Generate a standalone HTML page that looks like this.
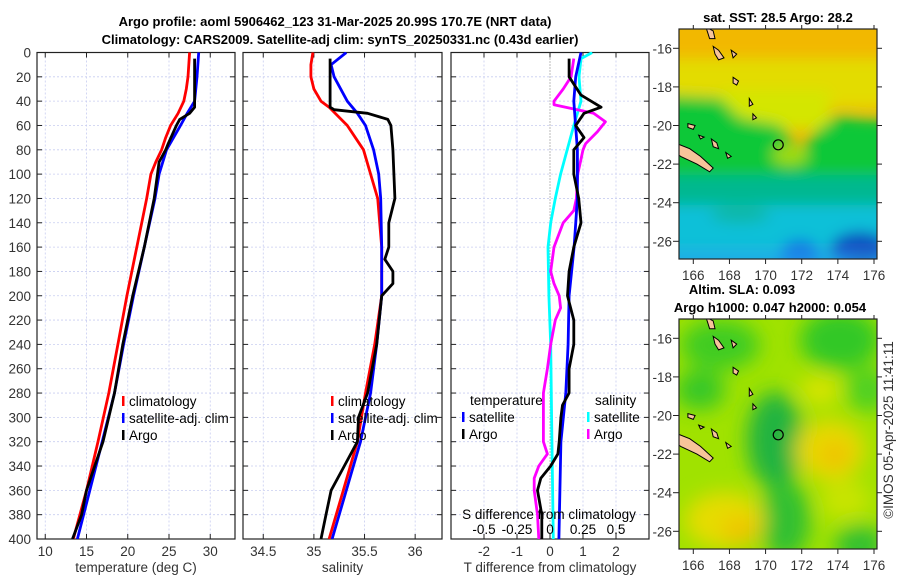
<!DOCTYPE html>
<html><head><meta charset="utf-8"><style>
body{margin:0;background:#fff}
svg{display:block;font-family:"Liberation Sans","DejaVu Sans",sans-serif}
.tk{font-size:13.5px;fill:#333}
.tt{font-size:13px;font-weight:bold;fill:#000}
.lg{font-size:13.5px;fill:#000}
</style></head><body>
<svg id="chart" width="900" height="580" viewBox="0 0 900 580">
<defs>
<filter id="blur" x="-20%" y="-20%" width="140%" height="140%"><feGaussianBlur stdDeviation="7"/></filter>
<filter id="blur2" x="-30%" y="-30%" width="160%" height="160%"><feGaussianBlur stdDeviation="10"/></filter>
<clipPath id="m1c"><rect x="679" y="29" width="198" height="230"/></clipPath>
<clipPath id="m2c"><rect x="679" y="319" width="198" height="230"/></clipPath>
<clipPath id="p1c"><rect x="37" y="52" width="198" height="487"/></clipPath>
<clipPath id="p2c"><rect x="243" y="52" width="199" height="487"/></clipPath>
<clipPath id="p3c"><rect x="451" y="52" width="198" height="487"/></clipPath>
</defs>
<text class="tt" x="335" y="26" text-anchor="middle">Argo profile: aoml 5906462_123 31-Mar-2025 20.99S 170.7E (NRT data)</text>
<text class="tt" x="340" y="44" text-anchor="middle">Climatology: CARS2009. Satellite-adj clim: synTS_20250331.nc (0.43d earlier)</text>
<g id="panels"></g>
<g id="maps"></g>
<text class="tk" x="0" y="0" transform="translate(893,430) rotate(-90)" text-anchor="middle">©IMOS 05-Apr-2025 11:41:11</text>
</svg>
<script>
// ---- data ----
const depthTicks=[0,20,40,60,80,100,120,140,160,180,200,220,240,260,280,300,320,340,360,380,400];
const tTicks=[10,15,20,25,30];
const sTicks=[34.5,35,35.5,36];
const dTicks=[-2,-1,0,1,2];
const sdTicks=[-0.5,-0.25,0,0.25,0.5];
const tClimDepth=[0,10,20,30,40,50,60,70,80,90,100,120,160,200,240,280,320,360,400];
const tClim=[27.5,27.4,27.3,27.1,26.8,26.1,25.2,24.6,24.1,23.4,22.8,22.3,21.1,19.9,18.8,17.7,16.4,15.0,13.4];
const tSatDepth=[0,20,40,50,60,80,100,120,160,200,240,280,320,360,400];
const tSat=[28.6,28.4,28.1,27.2,26.4,24.7,23.8,23.3,22.0,20.7,19.5,18.4,16.9,15.4,13.9];
const tArgoDepth=[5,20,45,50,55,60,75,80,90,100,120,160,200,240,280,320,350,360,380,400];
const tArgo=[28.1,28.1,28.1,27.5,26.3,25.9,24.9,24.6,23.8,23.6,23.2,22.0,20.6,19.4,18.4,17.0,15.5,15.0,14.4,13.3];
const sClimDepth=[0,10,20,30,40,45,60,80,100,120,140,160,200,240,280,320,360,400];
const sClim=[34.99,34.97,34.97,35.0,35.07,35.15,35.33,35.49,35.56,35.63,35.65,35.67,35.67,35.6,35.51,35.43,35.29,35.15];
const sSatDepth=[0,10,20,40,50,60,80,100,120,160,200,240,280,320,360,400];
const sSat=[35.32,35.17,35.2,35.33,35.43,35.51,35.59,35.64,35.66,35.67,35.67,35.62,35.56,35.46,35.32,35.18];
const sArgoDepth=[5,45,47,50,55,60,80,100,120,140,160,170,180,190,200,240,280,300,320,340,360,380,400];
const sArgo=[35.16,35.16,35.2,35.53,35.73,35.76,35.78,35.79,35.8,35.74,35.74,35.7,35.78,35.78,35.67,35.62,35.53,35.44,35.43,35.3,35.17,35.12,35.07];
const dDepth=[0,20,40,80,120,160,200,240,280,320,360,400];
const dTSat=[0.94,0.78,0.72,0.83,0.83,0.73,0.58,0.55,0.48,0.33,0.3,0.27];
const dTArgoDepth=[5,20,35,45,50,60,70,80,100,120,140,160,180,200,220,240,260,280,290,300,320,330,340,350,360,380,400];
const dTArgo=[0.58,0.58,0.94,1.55,1.03,0.78,1.03,0.72,0.72,0.87,0.94,0.72,0.58,0.53,0.72,0.72,0.58,0.58,0.38,0.33,0.28,0.24,0.02,-0.28,-0.38,-0.25,-0.25];
const dSSatDepth=[0,5,20,40,60,80,100,120,140,160,200,240,300,400];
const dSSat=[0.32,0.235,0.22,0.235,0.18,0.13,0.08,0.04,0.005,-0.015,-0.008,0.005,0.012,0.025];
const dSArgoDepth=[5,20,30,40,43,50,57,65,75,80,90,100,120,130,140,160,180,190,200,210,220,240,260,280,300,320,330,340,350,360,380,400];
const dSArgo=[0.18,0.16,0.1,0.03,0.03,0.33,0.42,0.36,0.27,0.25,0.23,0.21,0.2,0.18,0.1,0.03,0.005,0.03,0.07,0.08,0.04,0.005,-0.02,-0.05,-0.05,-0.05,-0.02,-0.085,-0.12,-0.12,-0.095,-0.085];
// ---- helpers ----
const NS='http://www.w3.org/2000/svg';
function mk(tag,attrs,parent,txt){const e=document.createElementNS(NS,tag);for(const k in attrs)e.setAttribute(k,attrs[k]);if(txt!==undefined)e.textContent=txt;parent.appendChild(e);return e;}
const Y0=52.5,Y1=539;
const yD=d=>Y0+(d/400)*(Y1-Y0);
function lin(d0,d1,r0,r1){return v=>r0+(v-d0)/(d1-d0)*(r1-r0);}
const panelsG=document.getElementById('panels');
const panels=[
 {x0:37,x1:235,sc:lin(9,33,37,235),ticks:tTicks,name:'temperature-panel',label:'temperature (deg C)',clip:'p1c'},
 {x0:243,x1:442,sc:lin(34.3,36.265,243,442),ticks:sTicks,name:'salinity-panel',label:'salinity',clip:'p2c'},
 {x0:451,x1:649,sc:lin(-3,3,451,649),ticks:dTicks,name:'difference-panel',label:'T difference from climatology',clip:'p3c'}
];
panels.forEach((p,pi)=>{
 const g=mk('g',{},panelsG);
 
 
 depthTicks.forEach(d=>{const l=mk('line',{x1:p.x0,x2:p.x1,y1:yD(d),y2:yD(d),stroke:'#c8cdf0','stroke-width':0.8,'stroke-dasharray':'2,2'},g);
  
  mk('line',{x1:p.x0,x2:p.x0+5,y1:yD(d),y2:yD(d),stroke:'#222'},g);
  mk('line',{x1:p.x1-5,x2:p.x1,y1:yD(d),y2:yD(d),stroke:'#222'},g);
  if(pi===0){const tx=mk('text',{class:'tk',x:31,y:yD(d)+5,'text-anchor':'end'},g,d);}
 });
 p.ticks.forEach(v=>{const x=p.sc(v);
  const l=mk('line',{x1:x,x2:x,y1:Y0,y2:Y1,stroke:(pi===2&&v===0)?'#555':'#c8cdf0','stroke-width':0.8,'stroke-dasharray':(pi===2&&v===0)?'1,2':'2,2'},g);
  
  mk('line',{x1:x,x2:x,y1:Y1,y2:Y1-5,stroke:'#222'},g);
  mk('line',{x1:x,x2:x,y1:Y0,y2:Y0+5,stroke:'#222'},g);
  const tx=mk('text',{class:'tk',x:x,y:556,'text-anchor':'middle'},g,v);
  
 });
 const ax=mk('text',{class:'tk',x:(p.x0+p.x1)/2,y:572,'text-anchor':'middle'},g,p.label);
 
 const fr=mk('rect',{x:p.x0,y:Y0,width:p.x1-p.x0,height:Y1-Y0,fill:'none',stroke:'#222','stroke-width':1.2},g);
 
});
function line(g,depths,vals,sc,color,name,clip){
 const pts=depths.map((d,i)=>sc(vals[i]).toFixed(1)+','+yD(d).toFixed(1)).join(' ');
 const pl=mk('polyline',{points:pts,fill:'none',stroke:color,'stroke-width':2.8,'stroke-linejoin':'round','clip-path':'url(#'+clip+')'},g);
 
 
}
const lg=mk('g',{},panelsG);
const P=panels;
line(lg,tClimDepth,tClim,P[0].sc,'#f00','temp-climatology-line','p1c');
line(lg,tSatDepth,tSat,P[0].sc,'#00f','temp-satellite-line','p1c');
line(lg,tArgoDepth,tArgo,P[0].sc,'#000','temp-argo-line','p1c');
line(lg,sClimDepth,sClim,P[1].sc,'#f00','sal-climatology-line','p2c');
line(lg,sSatDepth,sSat,P[1].sc,'#00f','sal-satellite-line','p2c');
line(lg,sArgoDepth,sArgo,P[1].sc,'#000','sal-argo-line','p2c');
const s4=v=>P[2].sc(v*4);
line(lg,dSSatDepth,dSSat,s4,'#0ff','sdiff-satellite-line','p3c');
line(lg,dSArgoDepth,dSArgo,s4,'#f0f','sdiff-argo-line','p3c');
line(lg,dDepth,dTSat,P[2].sc,'#00f','tdiff-satellite-line','p3c');
line(lg,dTArgoDepth,dTArgo,P[2].sc,'#000','tdiff-argo-line','p3c');
// legends
function legend(x,y,items,name){
 const g=mk('g',{},panelsG);
 
 items.forEach((it,i)=>{const yy=y+i*17;
  mk('rect',{x:x,y:yy-10,width:2.5,height:10,fill:it[1]},g);
  const t=mk('text',{class:'lg',x:x+7,y:yy},g,it[0]);
  
 });
}
legend(122,406,[['climatology','#f00'],['satellite-adj. clim','#00f'],['Argo','#000']],'temp-legend');
legend(331,406,[['climatology','#f00'],['satellite-adj. clim','#00f'],['Argo','#000']],'sal-legend');
mk('text',{class:'lg',x:470,y:405},panelsG,'temperature');
mk('text',{class:'lg',x:595,y:405},panelsG,'salinity');
legend(462,422,[['satellite','#00f'],['Argo','#000']],'tdiff-legend');
legend(587,422,[['satellite','#0ff'],['Argo','#f0f']],'sdiff-legend');
const sl=mk('text',{class:'lg',x:549,y:519,'text-anchor':'middle'},panelsG,'S difference from climatology');

sdTicks.forEach(v=>{const t=mk('text',{class:'lg',x:s4(v),y:534,'text-anchor':'middle'},panelsG,v);
 });

// ---- maps ----
const mapsG=document.getElementById('maps');
const lonX=lin(166,176,693.3,874);
function map(top,clip,name,title,draw){
 const g=mk('g',{},mapsG);
 
 const latY=lin(-16,-26,top+19.3,top+212.3);
 const inner=mk('g',{'clip-path':'url(#'+clip+')'},g);
 draw(inner,latY);
 const isl=mk('g',{fill:'#f7c49a',stroke:'#000','stroke-width':1},inner);
 
 const P2=(pts)=>pts.map(p=>lonX(p[0]).toFixed(1)+','+latY(p[1]).toFixed(1)).join(' ');
 mk('polygon',{points:P2([[165,-20.9],[165.8,-21.2],[166.4,-21.6],[167.1,-22.2],[166.9,-22.4],[166.2,-22.0],[165.3,-21.6],[165,-21.4]])},isl);
 mk('polygon',{points:P2([[166.7,-14.9],[167.1,-15.1],[167.2,-15.5],[166.9,-15.5],[166.8,-15.2]])},isl);
 mk('polygon',{points:P2([[167.1,-15.9],[167.4,-16.1],[167.7,-16.5],[167.4,-16.6],[167.2,-16.3]])},isl);
 mk('polygon',{points:P2([[168.1,-16.1],[168.4,-16.3],[168.2,-16.5]])},isl);
 mk('polygon',{points:P2([[168.2,-17.5],[168.5,-17.7],[168.4,-17.9],[168.2,-17.8]])},isl);
 mk('polygon',{points:P2([[169.1,-18.6],[169.3,-18.9],[169.1,-19]])},isl);
 mk('polygon',{points:P2([[169.3,-19.4],[169.5,-19.6],[169.3,-19.7]])},isl);
 mk('polygon',{points:P2([[165.7,-19.9],[166.1,-20.0],[166.0,-20.2],[165.7,-20.1]])},isl);
 mk('polygon',{points:P2([[167.0,-20.7],[167.3,-20.9],[167.4,-21.2],[167.1,-21.1]])},isl);
 mk('polygon',{points:P2([[167.8,-21.4],[168.1,-21.6],[167.9,-21.7]])},isl);
 mk('polygon',{points:P2([[166.3,-20.5],[166.6,-20.6],[166.4,-20.7]])},isl);
 const c=mk('circle',{cx:lonX(170.7),cy:latY(-21),r:5,fill:'none',stroke:'#000','stroke-width':1.2},g);
 
 mk('rect',{x:679,y:top,width:198,height:230,fill:'none',stroke:'#222','stroke-width':1.2},g);
 [166,168,170,172,174,176].forEach(v=>{const x=lonX(v);
  mk('line',{x1:x,x2:x,y1:top+230,y2:top+235,stroke:'#222'},g);
  mk('line',{x1:x,x2:x,y1:top,y2:top-4,stroke:'#222'},g);
  const t=mk('text',{class:'tk',x:x,y:top+251,'text-anchor':'middle'},g,v);
  });
 [-16,-18,-20,-22,-24,-26].forEach(v=>{const y=latY(v);
  mk('line',{x1:673,x2:679,y1:y,y2:y,stroke:'#222'},g);
  mk('line',{x1:877,x2:882,y1:y,y2:y,stroke:'#222'},g);
  const t=mk('text',{class:'tk',x:672,y:y+5,'text-anchor':'end'},g,v);
  });
 title.forEach(t=>{const e=mk('text',{class:'tt',x:t[0],y:t[1],'text-anchor':'middle'},g,t[2]);
  });
}
map(29,'m1c','sst-map',[[778,22,'sat. SST: 28.5 Argo: 28.2']],(g,latY)=>{
 mk('rect',{x:679,y:29,width:198,height:230,fill:'#f2b800'},g);
 const b=mk('g',{filter:'url(#blur)'},g);
 mk('rect',{x:660,y:58,width:240,height:50,fill:'#e3dc00'},b);
 mk('rect',{x:720,y:90,width:110,height:40,fill:'#d4e600'},b);
 mk('polygon',{points:'660,95 720,98 740,118 780,125 800,150 820,128 840,115 860,118 900,120 900,300 660,300',fill:'#10c838'},b);
 mk('ellipse',{cx:790,cy:155,rx:18,ry:10,fill:'#a0dc10'},b);
 mk('rect',{x:660,y:175,width:240,height:120,fill:'#00b890'},b);
 mk('rect',{x:660,y:205,width:240,height:90,fill:'#10c0d8'},b);
 mk('ellipse',{cx:740,cy:215,rx:30,ry:8,fill:'#08b8a8'},b);
 mk('ellipse',{cx:800,cy:255,rx:20,ry:15,fill:'#1070e0'},b);
 mk('ellipse',{cx:860,cy:250,rx:30,ry:18,fill:'#1048c0'},b);
 mk('ellipse',{cx:865,cy:258,rx:15,ry:8,fill:'#0830a0'},b);
 mk('rect',{x:660,y:250,width:240,height:20,fill:'#30a0f0',opacity:0.6},b);
});
map(319,'m2c','sla-map',[[742,294,'Altim. SLA: 0.093'],[770,312,'Argo h1000: 0.047 h2000: 0.054']],(g,latY)=>{
 mk('rect',{x:679,y:319,width:198,height:230,fill:'#a0e200'},g);
 const b=mk('g',{filter:'url(#blur2)'},g);
 mk('ellipse',{cx:720,cy:345,rx:40,ry:25,fill:'#40cc20'},b);
 mk('ellipse',{cx:840,cy:340,rx:40,ry:30,fill:'#30c828'},b);
 mk('ellipse',{cx:700,cy:390,rx:25,ry:20,fill:'#38c828'},b);
 mk('ellipse',{cx:775,cy:440,rx:28,ry:48,fill:'#20b440'},b);
 mk('ellipse',{cx:785,cy:520,rx:25,ry:40,fill:'#30c030'},b);
 mk('ellipse',{cx:860,cy:545,rx:25,ry:20,fill:'#30c030'},b);
 mk('ellipse',{cx:868,cy:390,rx:22,ry:22,fill:'#50d020'},b);
 mk('ellipse',{cx:830,cy:450,rx:35,ry:30,fill:'#e8d800'},b);
 mk('ellipse',{cx:835,cy:455,rx:15,ry:12,fill:'#f0c000'},b);
 mk('ellipse',{cx:725,cy:520,rx:40,ry:28,fill:'#e6dc00'},b);
 mk('ellipse',{cx:740,cy:530,rx:18,ry:14,fill:'#f0c400'},b);
 mk('ellipse',{cx:820,cy:390,rx:20,ry:15,fill:'#d8e400'},b);
 mk('ellipse',{cx:845,cy:500,rx:25,ry:20,fill:'#c8e400'},b);
});
</script>
</body></html>
